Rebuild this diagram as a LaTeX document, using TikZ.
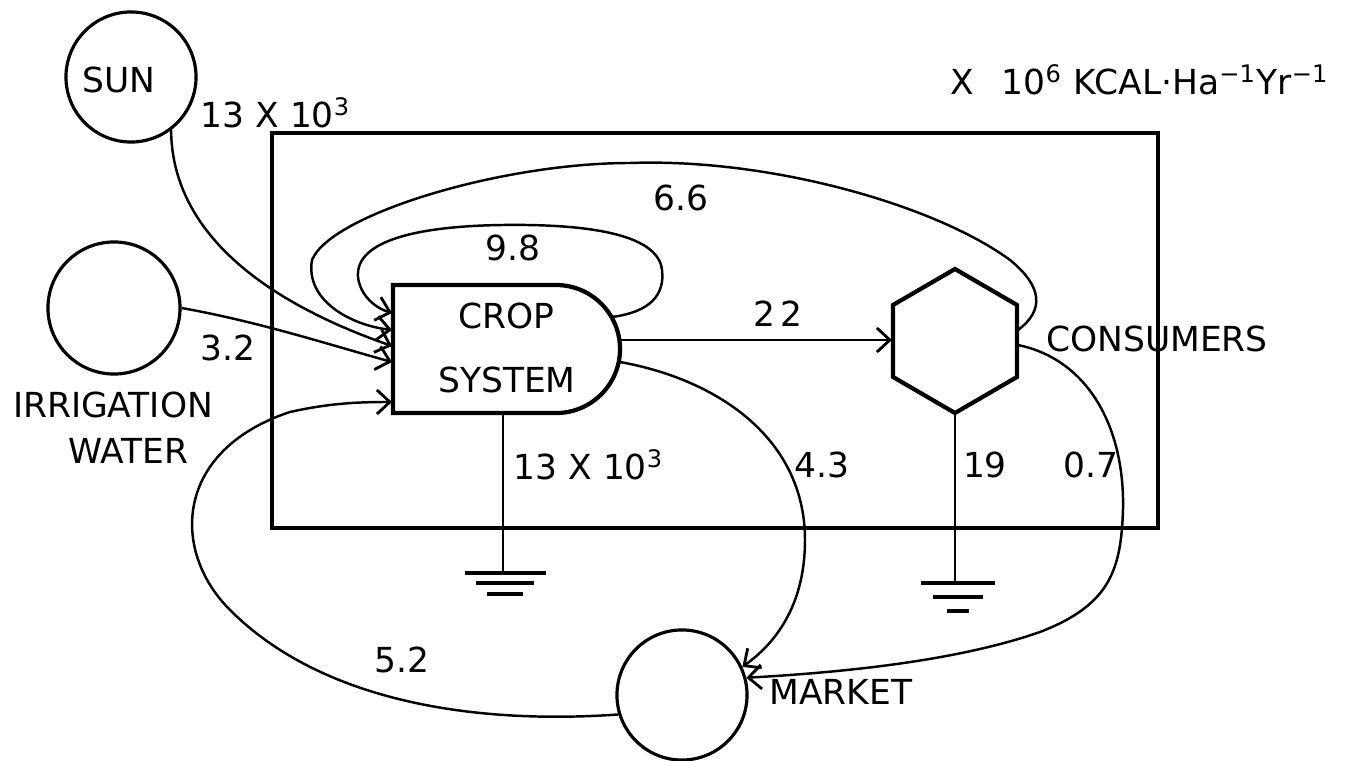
\documentclass[tikz,border=0pt]{standalone}
\usepackage{fontspec}
\setmainfont{DejaVu Sans}
\usetikzlibrary{arrows.meta}
\begin{document}
\begin{tikzpicture}[x=0.01cm,y=-0.01cm,
  font=\fontsize{9.8}{11}\selectfont,
  box/.style={line width=1.2pt},
  pool/.style={circle,draw,line width=0.9pt,minimum size=1.3cm,inner sep=0pt},
  flow/.style={line width=0.7pt},
  arr/.style={flow,-{Straight Barb[length=1.3mm,width=2.4mm,line width=0.8pt]}},
  lbl/.style={inner sep=0pt},
  gnd/.style={line width=1.1pt}]
\useasboundingbox (0,0) rectangle (1353,761);
% boundary box
\draw[box] (272,133) rectangle (1158,528);
% sources and market
\node[pool] (sun) at (131,77) {};
\node[lbl] (suntxt) at (119,80) {SUN};
\node[pool,minimum size=1.32cm] (irr) at (114,308) {};
\node[lbl] (irr1) at (113,405) {IRRIGATION};
\node[lbl] (irr2) at (128,451) {WATER};
\node[pool] (market) at (682,695) {};
\node[lbl] (markettxt) at (841,692) {MARKET};
% crop system
\draw[box] (393,285) -- (556,285) arc[start angle=90,end angle=-90,radius=0.64cm] -- (393,413) -- cycle;
\node[lbl] (crop1) at (506,316) {CROP};
\node[lbl] (crop2) at (507,380) {SYSTEM};
\coordinate (cin98) at (392,313);
\coordinate (cin66) at (392,330);
\coordinate (cinsun) at (392,346);
\coordinate (cinirr) at (392,362);
\coordinate (cin52) at (392,402);
\coordinate (cout98) at (612,317);
\coordinate (cout22) at (620,340);
\coordinate (cout43) at (620,362);
\coordinate (cgnd) at (503,413);
% consumers
\coordinate (hex) at (955,341);
\draw[box] (955,269) -- (1017,305) -- (1017,377) -- (955,413) -- (893,377) -- (893,305) -- cycle;
\node[lbl] (constxt) at (1157,339) {CONSUMERS};
\coordinate (hin22) at (892,340);
\coordinate (hout66) at (1018,330);
\coordinate (hout07) at (1018,345);
\coordinate (hgnd) at (955,413);
% heat sinks
\coordinate (g1) at (503,573);
\coordinate (g2) at (955,583);
\draw[flow,line width=0.8pt] (cgnd) -- (g1);
\draw[gnd] (465,573) -- (546,573) (476,583) -- (534,583) (487,594) -- (523,594);
\draw[flow,line width=0.8pt] (hgnd) -- (g2);
\draw[gnd] (921,583) -- (995,583) (933,597) -- (983,597) (947,611) -- (969,611);
% flows
\draw[arr] (sun.-53) .. controls (172,230) and (260,300) .. (cinsun);
\draw[arr] (irr.east) .. controls (260,322) and (330,345) .. (cinirr);
\draw[arr] (cout98) .. controls (650,312) and (665,295) .. (662,270)
  .. controls (658,232) and (580,224) .. (503,225)
  .. controls (420,226) and (355,240) .. (358,277)
  .. controls (360,295) and (375,308) .. (cin98);
\draw[arr] (hout66) .. controls (1045,310) and (1042,286) .. (1010,260)
  .. controls (935,205) and (770,158) .. (630,163)
  .. controls (500,163) and (330,215) .. (312,260)
  .. controls (305,300) and (350,325) .. (cin66);
\draw[arr] (cout22) -- (hin22);
\draw[arr] (cout43) .. controls (720,380) and (805,440) .. (805,540)
  .. controls (805,600) and (780,640) .. (market.25);
\draw[arr] (hout07) .. controls (1090,360) and (1125,430) .. (1123,510)
  .. controls (1121,570) and (1110,605) .. (1040,632)
  .. controls (960,660) and (850,672) .. (market.15);
\draw[arr] (market.197) .. controls (470,725) and (320,700) .. (230,610)
  .. controls (170,550) and (175,450) .. (290,412)
  .. controls (330,403) and (360,402) .. (cin52);
% labels
\node[lbl,anchor=base west] (lsun) at (200,128) {13 X 10\textsuperscript{3}};
\node[lbl] (l32) at (228,348) {3.2};
\node[lbl] (l98) at (513,248) {9.8};
\node[lbl] (l66) at (681,198) {6.6};
\node[lbl] (l22) at (778,314) {2\,2};
\node[lbl,anchor=base west] (lgnd) at (513,480) {13 X 10\textsuperscript{3}};
\node[lbl] (l43) at (822,465) {4.3};
\node[lbl] (l19) at (985,465) {19};
\node[lbl] (l07) at (1091,465) {0.7};
\node[lbl] (l52) at (402,660) {5.2};
\node[lbl,anchor=base west] (unit) at (950,95) {X\hspace{0.8em}10\textsuperscript{6} KCAL·Ha\textsuperscript{−1}Yr\textsuperscript{−1}};
\end{tikzpicture}
\end{document}
